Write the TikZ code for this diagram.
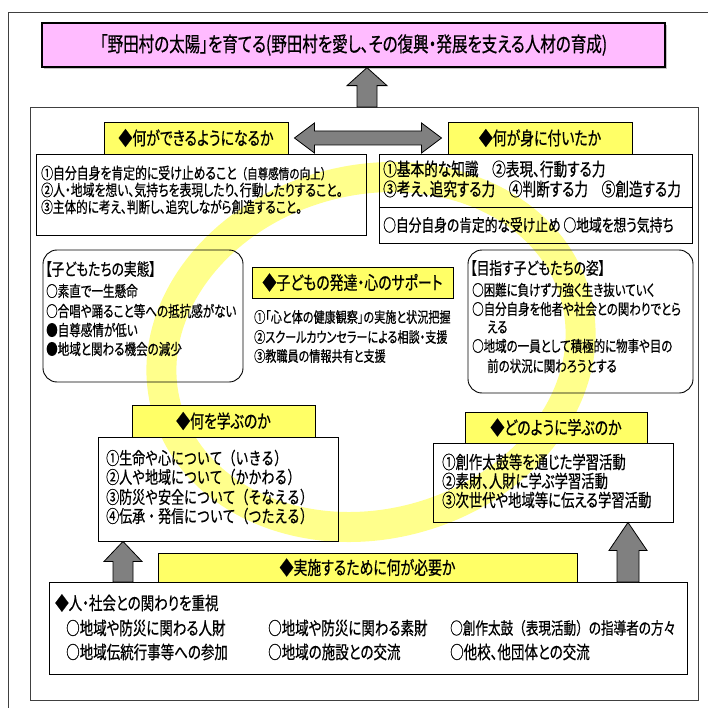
\documentclass[tikz,border=0pt]{standalone}
\usepackage{fontspec}
\newfontfamily\jp{Noto Sans CJK JP}[FakeStretch=0.75,FakeBold=0.6,RawFeature=+palt]
\newfontfamily\jpf{Noto Sans CJK JP}[FakeStretch=0.75,FakeBold=0.6]
\usetikzlibrary{shadows,fit,calc}
\definecolor{titlepink}{RGB}{255,187,255}
\definecolor{hdryellow}{RGB}{255,255,102}
\definecolor{ringc}{RGB}{255,255,140}
\definecolor{arrowgray}{RGB}{128,128,128}
\newcommand\fs[1]{\jp\fontsize{#1}{#1}\selectfont}
\newcommand\ff[1]{\jpf\fontsize{#1}{#1}\selectfont}
\begin{document}
\begin{tikzpicture}[x=1pt,y=-1pt,
  box/.style={draw=black, line width=0.9pt, inner sep=0pt},
  rbox/.style={draw=black, line width=0.9pt, inner sep=0pt, rounded corners=14pt},
  hdr/.style={draw=black, line width=0.9pt, fill=hdryellow, inner sep=0pt},
  htxt/.style={inner sep=0pt, font=\fs{18.5}},
  txt/.style={anchor=west, inner sep=0pt},
  blk/.style={fill=arrowgray, draw=black, line width=0.8pt},
]
\useasboundingbox (0,0) rectangle (707,708);
% outer frame
\draw[line width=0.9pt, draw=black!75] (8,12) rectangle (720,720);
% yellow ring
\draw[ringc, line width=30pt, rotate around={15:(371,352)}] (371,352) ellipse [x radius=212pt, y radius=172pt];
% title
\node[draw=black, line width=1.3pt, fill=titlepink, inner sep=0pt,
      drop shadow={shadow xshift=2pt, shadow yshift=-2pt, fill=black!45},
      fit={(42,23) (665,67)}] (title) {};
\node[inner sep=0pt, font=\fs{20.7}] (titlet) at (title.center)
  {「野田村の太陽」を育てる(野田村を愛し、その復興・発展を支える人材の育成)};
% inner frame
\node[draw=black!75, line width=0.9pt, inner sep=0pt, fit={(30,107) (698,700)}] (inner) {};
% top-left
\node[hdr, fit={(104,122) (288,154)}] (h1) {};
\node[htxt] (h1t) at (h1.center) {◆何ができるようになるか};
\node[box, fit={(36,154) (366,235)}] (b1) {};
\node[txt, font=\fs{15.8}] (b1a) at (41,173) {①自分自身を肯定的に受け止めること{\ff{14}（自尊感情の向上）}};
\node[txt, font=\fs{15.8}] (b1b) at (41,190) {②人・地域を想い、気持ちを表現したり、行動したりすること。};
\node[txt, font=\fs{15.5}] (b1c) at (41,207) {③主体的に考え、判断し、追究しながら創造すること。};
% top-right
\node[hdr, fit={(448,122) (632,154)}] (h2) {};
\node[htxt] (h2t) at (h2.center) {◆何が身に付いたか};
\node[box, fit={(379,154) (692,243)}] (b2) {};
\coordinate (b2dl) at (379,207);
\coordinate (b2dr) at (692,207);
\draw[line width=0.9pt] (b2dl) -- (b2dr);
\node[txt, font=\fs{18.2}] (b2a) at (383,169) {①基本的な知識　②表現、行動する力};
\node[txt, font=\fs{18.2}] (b2b) at (383,189) {③考え、追究する力　④判断する力　⑤創造する力};
\node[txt, font=\fs{17}] (b2c) at (383,225) {○自分自身の肯定的な受け止め ○地域を想う気持ち};
% double arrow
\draw[blk] let \p1=(h1.east), \p2=(h2.west) in
  (\x1+6pt,\y1) -- (\x1+26pt,\y1+15pt) -- (\x1+26pt,\y1+7pt) -- (\x2-26pt,\y1+7pt)
  -- (\x2-26pt,\y1+15pt) -- (\x2-6pt,\y1) -- (\x2-26pt,\y1-15pt) -- (\x2-26pt,\y1-7pt)
  -- (\x1+26pt,\y1-7pt) -- (\x1+26pt,\y1-15pt) -- cycle;
% up arrow to title
\coordinate (a1) at (367,107);
\draw[blk] let \p1=(a1), \p2=(title.south) in
  (\x1-10pt,\y1) -- (\x1-10pt,\y2-18pt) -- (\x1-20pt,\y2-18pt) -- (\x1,\y2)
  -- (\x1+20pt,\y2-18pt) -- (\x1+10pt,\y2-18pt) -- (\x1+10pt,\y1) -- cycle;
% middle left
\node[rbox, fit={(43,250) (243,382)}] (k1) {};
\node[txt, font=\fs{17}] (k1a) at (45,269) {【子どもたちの実態】};
\node[txt, font=\fs{15.4}] (k1b) at (46,291) {○素直で一生懸命};
\node[txt, font=\fs{15.4}] (k1c) at (46,311) {○合唱や踊ること等への抵抗感がない};
\node[txt, font=\fs{15.4}] (k1d) at (46,330) {●自尊感情が低い};
\node[txt, font=\fs{15.4}] (k1e) at (46,349) {●地域と関わる機会の減少};
% middle center
\node[hdr, fit={(252,267) (453,298)}] (h3) {};
\node[htxt] (h3t) at (h3.center) {◆子どもの発達・心のサポート};
\node[txt, font=\fs{14.8}] (t3a) at (254,317) {①「心と体の健康観察」の実施と状況把握};
\node[txt, font=\fs{14.8}] (t3b) at (254,337) {②スクールカウンセラーによる相談・支援};
\node[txt, font=\fs{14.8}] (t3c) at (254,356) {③教職員の情報共有と支援};
% middle right
\node[rbox, fit={(468,250) (693,393)}] (k2) {};
\node[txt, font=\fs{17}] (k2a) at (470,268) {【目指す子どもたちの姿】};
\node[txt, font=\fs{15.3}] (k2b) at (472,290) {○困難に負けず力強く生き抜いていく};
\node[txt, font=\fs{15.3}] (k2c) at (472,309) {○自分自身を他者や社会との関わりでとら};
\node[txt, font=\fs{15.3}] (k2d) at (487,327) {える};
\node[txt, font=\fs{15.3}] (k2e) at (472,346) {○地域の一員として積極的に物事や目の};
\node[txt, font=\fs{15.3}] (k2f) at (487,366) {前の状況に関わろうとする};
% lower left
\node[hdr, fit={(132,405) (315,437)}] (h4) {};
\node[htxt] (h4t) at (h4.center) {◆何を学ぶのか};
\node[box, fit={(98,437) (338,541)}] (b4) {};
\node[txt, font=\ff{17.3}] (b4a) at (106,458) {①生命や心について（いきる）};
\node[txt, font=\ff{17.3}] (b4b) at (106,477) {②人や地域について（かかわる）};
\node[txt, font=\ff{17.3}] (b4c) at (106,497) {③防災や安全について（そなえる）};
\node[txt, font=\ff{17.3}] (b4d) at (106,516) {④伝承・発信について（つたえる）};
% lower right
\node[hdr, fit={(465,412) (647,443)}] (h5) {};
\node[htxt] (h5t) at (h5.center) {◆どのように学ぶのか};
\node[box, fit={(433,443) (673,522)}] (b5) {};
\node[txt, font=\fs{17.8}] (b5a) at (442,462) {①創作太鼓等を通じた学習活動};
\node[txt, font=\fs{17.8}] (b5b) at (442,481) {②素財、人財に学ぶ学習活動};
\node[txt, font=\fs{17.8}] (b5c) at (442,500) {③次世代や地域等に伝える学習活動};
% bottom
\node[hdr, fit={(158,553) (577,582)}] (h6) {};
\node[htxt] (h6t) at (h6.center) {◆実施するために何が必要か};
\node[box, fit={(49,582) (687,674)}] (b6) {};
\node[txt, font=\fs{18}] (b6a) at (55,603) {◆人・社会との関わりを重視};
\node[txt, font=\fs{18}] (b6b) at (66,628) {○地域や防災に関わる人財};
\node[txt, font=\fs{18}] (b6c) at (268,628) {○地域や防災に関わる素財};
\node[txt, font=\fs{16.8}] (b6d) at (450,628) {○創作太鼓{\ff{16.8}（表現活動）}の指導者の方々};
\node[txt, font=\fs{18}] (b6e) at (66,652) {○地域伝統行事等への参加};
\node[txt, font=\fs{18}] (b6f) at (268,652) {○地域の施設との交流};
\node[txt, font=\fs{18}] (b6g) at (450,652) {○他校、他団体との交流};
% up arrows from bottom box
\coordinate (la) at (123,582);
\coordinate (ra) at (628,582);
\draw[blk] let \p1=(la), \p2=(b4.south) in
  (\x1-10pt,\y1) -- (\x1-10pt,\y2-20pt) -- (\x1-19pt,\y2-20pt) -- (\x1,\y2)
  -- (\x1+19pt,\y2-20pt) -- (\x1+10pt,\y2-20pt) -- (\x1+10pt,\y1) -- cycle;
\draw[blk] let \p1=(ra), \p2=(b5.south) in
  (\x1-11pt,\y1) -- (\x1-11pt,\y2-28pt) -- (\x1-19pt,\y2-28pt) -- (\x1,\y2)
  -- (\x1+19pt,\y2-28pt) -- (\x1+11pt,\y2-28pt) -- (\x1+11pt,\y1) -- cycle;
\end{tikzpicture}
\end{document}
